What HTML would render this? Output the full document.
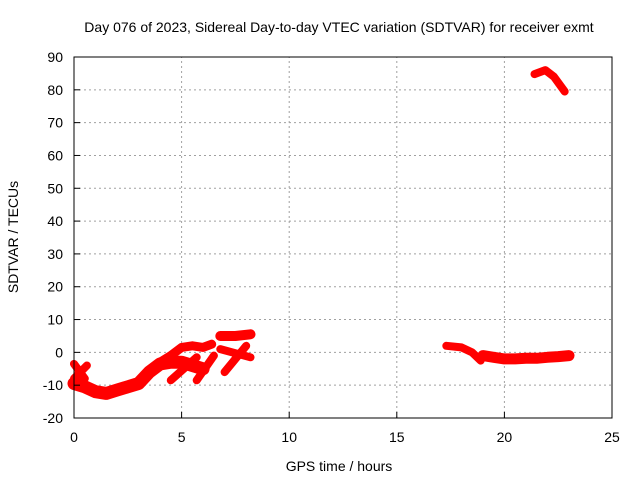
<!DOCTYPE html>
<html><head><meta charset="utf-8"><style>
body{margin:0;background:#fff;}
svg text{font-family:"Liberation Sans",sans-serif;font-size:14px;fill:#000;}
</style></head><body>
<svg id="chart" width="640" height="480">
<rect width="640" height="480" fill="#fff"/>
<g id="grid"></g>
<g id="series"></g>
<rect x="74" y="57" width="538" height="361" fill="none" stroke="#000" stroke-width="1"/>
<g id="ticks"></g>
<text x="339" y="32" text-anchor="middle">Day 076 of 2023, Sidereal Day-to-day VTEC variation (SDTVAR) for receiver exmt</text>
<text x="339" y="471" text-anchor="middle">GPS time / hours</text>
<text transform="translate(18,237) rotate(-90)" text-anchor="middle">SDTVAR / TECUs</text>
</svg>
<script>
const xTicks=[0,5,10,15,20,25];
const yTicks=[-20,-10,0,10,20,30,40,50,60,70,80,90];
const tracks=[
 {h:[0,0.5,1,1.5,2,2.5,3,3.5,4,4.5,5,5.5,6],v:[-9.5,-10.5,-12,-12.5,-11.5,-10.5,-9.5,-6,-3.5,-3,-3,-4,-5]},
 {h:[4,4.5,5,5.5,6,6.4],v:[-3,-1,1.5,2,1.5,2.5]},
 {h:[0,0.5],v:[-3.5,-8]},
 {h:[0,0.6],v:[-8,-4]},
 {h:[4.5,5.7],v:[-8.5,-1.5]},
 {h:[5.7,6.5],v:[-8.5,-1]},
 {h:[6.8,7.5,8.2],v:[5,5,5.5]},
 {h:[7,8],v:[-6,2]},
 {h:[6.8,8.2],v:[1,-1.5]},
 {h:[17.3,18,18.5,18.9],v:[2,1.5,0,-2.5]},
 {h:[19,19.5,20,20.5,21,21.5,22,22.5,23],v:[-1,-1.5,-2,-2,-1.8,-1.8,-1.5,-1.3,-1]},
 {h:[21.4,21.9,22.3,22.8],v:[84.8,86,84,79.5]}
];
const strokeWidths=[13,9,8,8,8,8,10,8,8,8,11,8];
const ns="http://www.w3.org/2000/svg";
const X0=74,X1=612,Y0=418,Y1=57;
function xs(h){return X0+(h-0)/(25-0)*(X1-X0);}
function ys(v){return Y0-(v+20)/(90+20)*(Y0-Y1);}
const grid=document.getElementById('grid'),ticks=document.getElementById('ticks'),ser=document.getElementById('series');
function mk(tag,attrs,parent){const e=document.createElementNS(ns,tag);for(const k in attrs)e.setAttribute(k,attrs[k]);parent.appendChild(e);return e;}
xTicks.forEach(t=>{const x=xs(t);
 if(t>0&&t<25){const g=mk('line',{x1:x,x2:x,y1:Y0,y2:Y1,stroke:'#a0a0a0','stroke-dasharray':'2,3'},grid);
 
 }
 const tl=mk('line',{x1:x,x2:x,y1:Y0,y2:Y0-6,stroke:'#000'},ticks);
 
 
 const tt=mk('text',{x:x,y:Y0+24,'text-anchor':'middle'},ticks);tt.textContent=t;
 
 
});
yTicks.forEach(t=>{const y=ys(t);
 if(t>-20&&t<90){const g=mk('line',{x1:X0,x2:X1,y1:y,y2:y,stroke:'#a0a0a0','stroke-dasharray':'2,3'},grid);
 
 }
 const tl=mk('line',{x1:X0,x2:X0+6,y1:y,y2:y,stroke:'#000'},ticks);
 
 
 const tt=mk('text',{x:X0-11,y:y+5,'text-anchor':'end'},ticks);tt.textContent=t;
 
 
});
tracks.forEach((tr,i)=>{
 const pts=tr.h.map((h,j)=>xs(h).toFixed(1)+','+ys(tr.v[j]).toFixed(1)).join(' ');
 const p=mk('polyline',{points:pts,fill:'none',stroke:'#ff0000','stroke-width':strokeWidths[i],'stroke-linejoin':'round','stroke-linecap':'round'},ser);
 
 
});
</script>
</body></html>
